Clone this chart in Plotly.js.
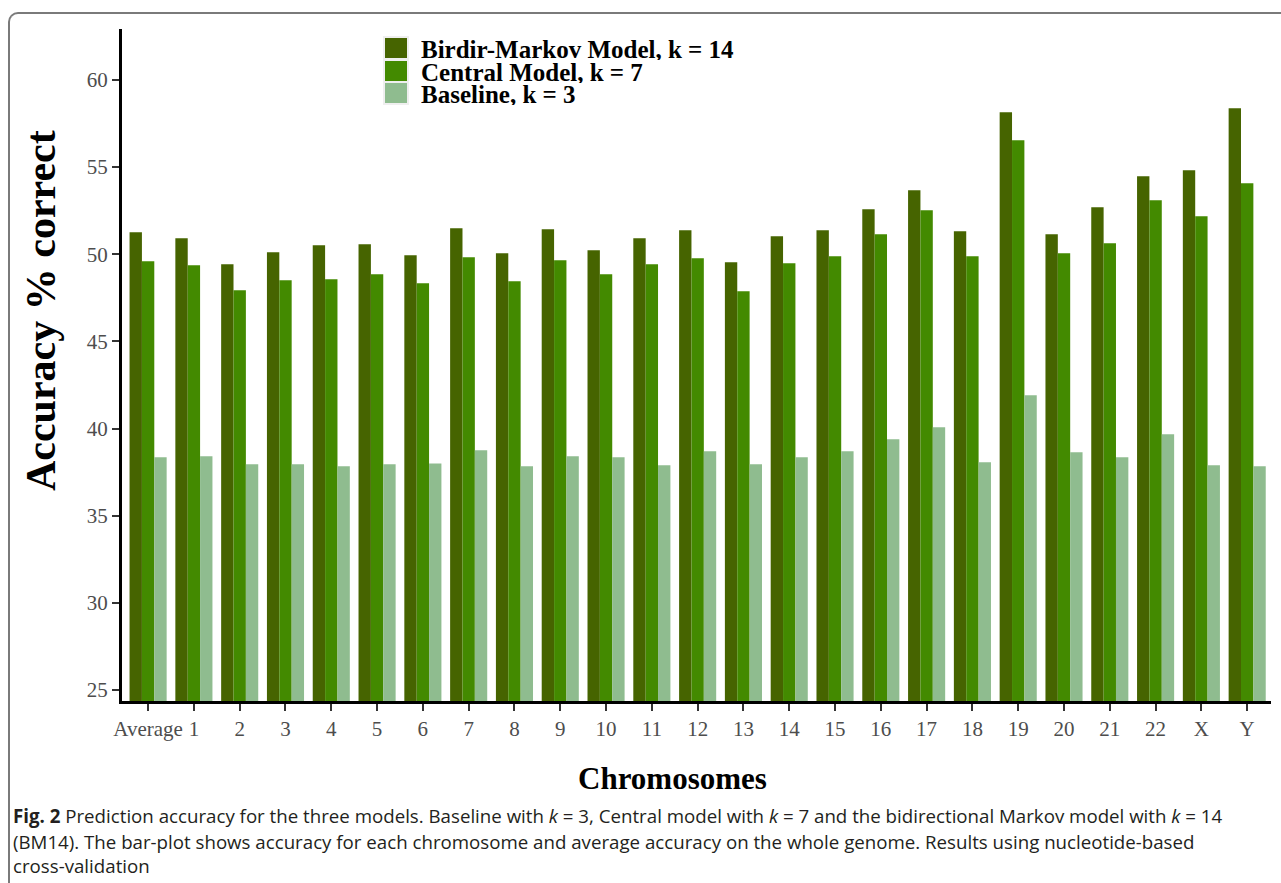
<!DOCTYPE html>
<html><head><meta charset="utf-8">
<script src="https://cdn.plot.ly/plotly-3.0.1.min.js"></script>
<style>
html,body{margin:0;padding:0;background:#fff;overflow:hidden;}
#frame{position:absolute;left:8px;top:12px;width:1400px;height:1000px;border-top:2px solid #7a7a7a;border-left:2px solid #7a7a7a;border-top-left-radius:10px;box-sizing:border-box;}
#chart{position:absolute;left:0;top:0;width:1281px;height:883px;}
</style></head><body>
<div id="frame"></div>
<div id="chart"></div>
<script>
// ---- data ----
const categories = ["Average","1","2","3","4","5","6","7","8","9","10","11","12","13","14","15","16","17","18","19","20","21","22","X","Y"];
const seriesNames = ["Birdir-Markov Model, k = 14","Central Model, k = 7","Baseline, k = 3"];
const bm14 = [51.26,50.92,49.43,50.11,50.52,50.57,49.94,51.49,50.06,51.43,50.23,50.92,51.38,49.54,51.03,51.38,52.58,53.67,51.32,58.15,51.15,52.70,54.47,54.82,58.38];
const central7 = [49.60,49.37,47.93,48.51,48.57,48.85,48.34,49.83,48.45,49.66,48.85,49.43,49.77,47.88,49.48,49.89,51.15,52.52,49.89,56.54,50.06,50.63,53.10,52.18,54.07];
const baseline3 = [38.35,38.41,37.95,37.95,37.84,37.95,38.00,38.75,37.84,38.41,38.35,37.89,38.70,37.95,38.35,38.70,39.39,40.07,38.06,41.91,38.64,38.35,39.67,37.89,37.84];
const yTicks = [25,30,35,40,45,50,55,60];
const xTitle = "Chromosomes";
const yTitle = "Accuracy % correct";
const captionLines = [
  "<b>Fig. 2</b> Prediction accuracy for the three models. Baseline with <i>k</i> = 3, Central model with <i>k</i> = 7 and the bidirectional Markov model with <i>k</i> = 14",
  "(BM14). The bar-plot shows accuracy for each chromosome and average accuracy on the whole genome. Results using nucleotide-based",
  "cross-validation"
];

// ---- styling ----
const colors = ["#466400","#438a00","#8fbc8f"];
const W = 1281, H = 883;
const L = 122, R = 10, T = 29, B = 182;
const PW = W - L - R, PH = H - T - B;
const px = p => (p - L) / PW;
const py = p => (H - B - p) / PH;
const serif = "Liberation Serif, Times New Roman, serif";

const values = [bm14, central7, baseline3];
const traces = values.map((v, i) => ({
  type: "bar", x: categories, y: v, name: seriesNames[i],
  marker: {color: colors[i], line: {width: 0}}, showlegend: false,
  hoverinfo: "x+y+name"
}));

const shapes = [{
  type: "rect", xref: "paper", yref: "paper",
  x0: px(383), x1: px(409), y0: py(105), y1: py(36),
  fillcolor: "#efefef", line: {width: 0}, layer: "above"
}];
const legendRows = [[38, 58], [61, 81], [83, 103]];
const annotations = [];
seriesNames.forEach((n, i) => {
  shapes.push({type: "rect", xref: "paper", yref: "paper",
    x0: px(385), x1: px(407), y0: py(legendRows[i][1]), y1: py(legendRows[i][0]),
    fillcolor: colors[i], line: {width: 0}, layer: "above"});
  annotations.push({xref: "paper", yref: "paper", x: px(420), y: py((legendRows[i][0] + legendRows[i][1]) / 2 + 1),
    xanchor: "left", yanchor: "middle", showarrow: false, text: "<b>" + n + "</b>",
    height: 21, borderpad: 0, valign: "middle",
    font: {family: serif, size: 25, color: "#000"}});
});
// axis titles (placed as in the reference, off-centre)
annotations.push({xref: "paper", yref: "paper", x: px(41), y: py(311), textangle: -90,
  xanchor: "center", yanchor: "middle", showarrow: false, text: "<b>" + yTitle + "</b>",
  font: {family: serif, size: 42, color: "#000"}});
annotations.push({xref: "paper", yref: "paper", x: px(672), y: py(778),
  xanchor: "center", yanchor: "middle", showarrow: false, text: "<b>" + xTitle + "</b>",
  font: {family: serif, size: 31, color: "#000"}});
const capY = [815, 841, 866];
captionLines.forEach((t, i) => {
  annotations.push({xref: "paper", yref: "paper", x: px(11), y: py(capY[i]),
    xanchor: "left", yanchor: "middle", showarrow: false, align: "left", text: t,
    font: {family: "Open Sans, sans-serif", size: 18.7, color: "#231f20"}});
});

const layout = {
  width: W, height: H,
  margin: {l: L, r: R, t: T, b: B, pad: 0},
  paper_bgcolor: "rgba(0,0,0,0)", plot_bgcolor: "rgba(0,0,0,0)",
  barmode: "group", bargap: 0.19, bargroupgap: 0,
  xaxis: {
    type: "category", range: [-0.57, 24.52], showgrid: false, zeroline: false,
    showline: true, linewidth: 3, linecolor: "#000",
    ticks: "outside", ticklen: 7, tickwidth: 2, tickcolor: "#333",
    tickfont: {family: serif, size: 21, color: "#4d4d4d"},
    automargin: false, fixedrange: true
  },
  yaxis: {
    range: [24.37, 62.92], showgrid: false, zeroline: false,
    showline: true, linewidth: 3, linecolor: "#000",
    tickvals: yTicks, ticktext: yTicks.map(String),
    ticks: "outside", ticklen: 7, tickwidth: 2, tickcolor: "#333",
    tickfont: {family: serif, size: 21, color: "#4d4d4d"},
    automargin: false, fixedrange: true
  },
  shapes: shapes, annotations: annotations,
  showlegend: false
};
Plotly.newPlot("chart", traces, layout, {displayModeBar: false, responsive: false});
</script>
</body></html>
